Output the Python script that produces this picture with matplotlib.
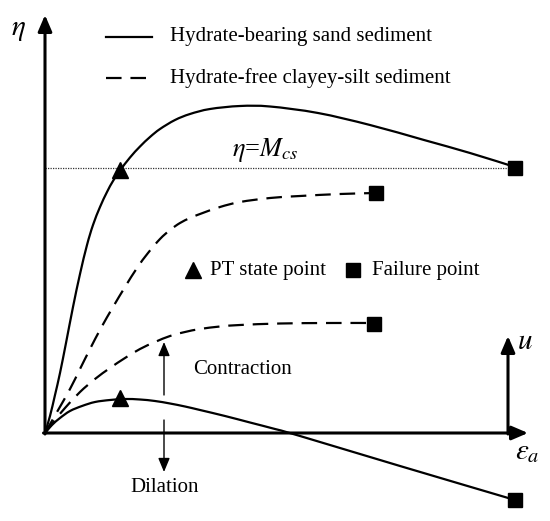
import matplotlib
matplotlib.use('Agg')
import matplotlib.pyplot as plt
from matplotlib.path import Path
from matplotlib.patches import PathPatch

plt.rcParams['font.family'] = ['Liberation Serif', 'DejaVu Serif']
plt.rcParams['mathtext.fontset'] = 'stix'

# schematic curves, origin at the axis corner
sand_eta_x = [0, 5, 10, 15, 21, 28, 35, 42, 48, 55, 62, 68, 75, 85, 95, 105, 115, 130, 145, 165,
              195, 225, 273, 325, 379, 425, 470]
sand_eta_y = [0, 17, 38, 60, 90, 126, 159, 188, 208, 226, 241, 252, 262.5, 275.5, 286.5, 296, 304, 313, 319, 324,
              327, 326.5, 320, 308, 293, 280, 266]

clay1_x = [0, 12, 25, 35, 45, 56, 68, 80, 92, 103, 115, 125, 135, 145, 155, 175, 195, 225, 255, 295, 331]
clay1_y = [0, 21, 44, 64, 84, 105, 126, 146, 165, 180, 194, 203, 210, 215, 219, 226, 231, 235, 237, 239, 240]

clay2_x = [0, 10, 20, 35, 50, 65, 80, 95, 110, 125, 140, 155, 175, 195, 235, 285, 329]
clay2_y = [0, 13, 25, 41, 54, 65, 75, 84, 91, 97, 101, 104, 106.5, 108, 109.5, 110, 110]

sand_u_x = [0, 7, 15, 25, 37, 50, 65, 80, 95, 110, 125, 140, 155, 180, 205, 230, 255, 355, 470]
sand_u_y = [0, 8, 15, 22, 27, 31, 33, 34, 33.5, 32, 29.5, 26.5, 23, 17, 10.5, 4, -3, -33, -67]

pt_x = [75, 75]
pt_y = [263, 35]
fail_x = [470, 331, 329, 470]
fail_y = [265, 240, 109, -67]
M_cs = 265


def smooth(ax, xs, ys, **kw):
    # cubic segments through every read point (Catmull-Rom tangents)
    p = list(zip(xs, ys))
    n = len(p)
    verts = [p[0]]
    codes = [Path.MOVETO]
    for i in range(n - 1):
        a = p[i - 1] if i > 0 else p[i]
        b, c = p[i], p[i + 1]
        d = p[i + 2] if i + 2 < n else p[i + 1]
        c1 = (b[0] + (c[0] - a[0]) / 6, b[1] + (c[1] - a[1]) / 6)
        c2 = (c[0] - (d[0] - b[0]) / 6, c[1] - (d[1] - b[1]) / 6)
        verts += [c1, c2, c]
        codes += [Path.CURVE4] * 3
    ax.add_patch(PathPatch(Path(verts, codes), fill=False, capstyle='butt', **kw))


fig = plt.figure(figsize=(5.5, 5.21), dpi=100)
ax = fig.add_axes([0, 0, 1, 1])
ax.set_xlim(-45, 505)
ax.set_ylim(-88, 433)
ax.axis('off')

dash = (0, (7, 4))
smooth(ax, sand_eta_x, sand_eta_y, color='black', lw=1.6)
smooth(ax, sand_u_x, sand_u_y, color='black', lw=1.6)
smooth(ax, clay1_x, clay1_y, color='black', lw=1.6, linestyle=dash)
smooth(ax, clay2_x, clay2_y, color='black', lw=1.6, linestyle=dash)
ax.plot([0, fail_x[0]], [M_cs, M_cs], color='#333333', lw=0.9, linestyle=(0, (1, 1)))

ax.plot(pt_x, pt_y, '^', color='black', markersize=11, linestyle='none')
ax.plot(fail_x, fail_y, 's', color='black', markersize=10.5, linestyle='none')

# axes
head = dict(arrowstyle='-|>,head_length=0.7,head_width=0.3', lw=2.2, color='black',
            shrinkA=0, shrinkB=0, mutation_scale=14)
ax.annotate('', xy=(0, 418), xytext=(0, -1), arrowprops=head)
ax.annotate('', xy=(483, 0), xytext=(-1.5, 0), arrowprops=head)
ax.annotate('', xy=(463, 97), xytext=(463, -1), arrowprops=head)

thin = dict(arrowstyle='-|>,head_length=0.6,head_width=0.25', lw=1.0, color='black',
            shrinkA=0, shrinkB=0, mutation_scale=14)
ax.annotate('', xy=(119, 91), xytext=(119, 38), arrowprops=thin)
ax.annotate('', xy=(119, -39), xytext=(119, 13), arrowprops=thin)

ax.text(-27, 403, r'$\eta$', fontsize=21, ha='center', va='center')
ax.text(472, 91, r'$u$', fontsize=21, ha='left', va='center')
ax.text(482, -19, r'$\varepsilon_a$', fontsize=21, ha='center', va='center')
ax.text(187, 283, r'$\eta$=$M_{cs}$', fontsize=19, ha='left', va='center')
ax.text(198, 63, 'Contraction', fontsize=15, ha='center', va='center')
ax.text(120, -55, 'Dilation', fontsize=15, ha='center', va='center')

# legend
ax.plot([61, 107], [396, 396], color='black', lw=1.6)
ax.plot([61, 107], [355, 355], color='black', lw=1.6, linestyle=dash)
ax.text(125, 396, 'Hydrate-bearing sand sediment', fontsize=15, ha='left', va='center')
ax.text(125, 355, 'Hydrate-free clayey-silt sediment', fontsize=15, ha='left', va='center')
ax.plot([148], [163], '^', color='black', markersize=11)
ax.text(165, 163, 'PT state point', fontsize=15, ha='left', va='center')
ax.plot([308], [163], 's', color='black', markersize=10)
ax.text(327, 163, 'Failure point', fontsize=15, ha='left', va='center')

fig.savefig('out.png', dpi=100, facecolor='white')
